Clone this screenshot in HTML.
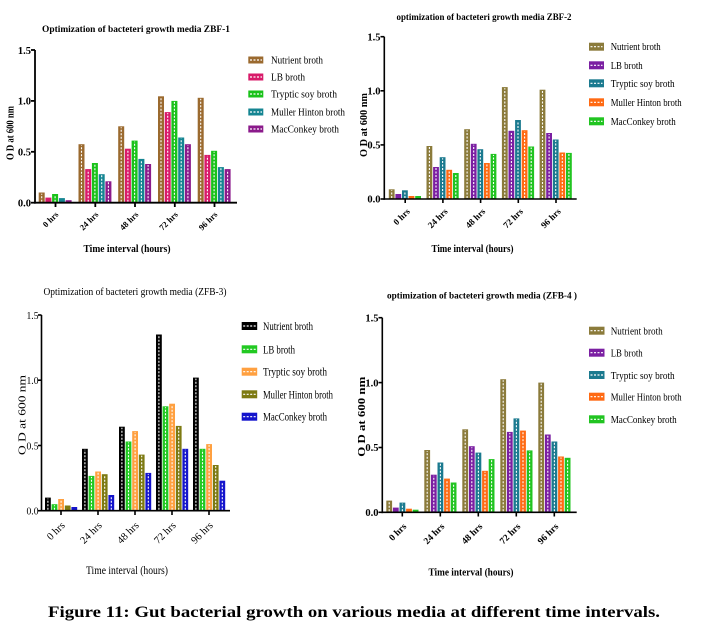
<!DOCTYPE html>
<html><head><meta charset="utf-8"><style>
html,body{margin:0;padding:0;background:#fff;}
svg{display:block;}
text{font-family:"Liberation Serif",serif;fill:#000;}
.b{font-weight:bold;}
</style></head><body>
<svg width="703" height="635" viewBox="0 0 703 635" xmlns="http://www.w3.org/2000/svg">
<rect width="703" height="635" fill="#fff"/>

<!-- ================= PANEL 1 ================= -->
<text class="b" x="136" y="32" font-size="9.5" text-anchor="middle" textLength="188" lengthAdjust="spacingAndGlyphs">Optimization of bacteteri growth media ZBF-1</text>
<g transform="translate(0,202.7) scale(1,-1)">
<g fill="#9b6a2f"><rect x="38.7" y="0" width="6" height="10.2"/><rect x="78.5" y="0" width="6" height="58.5"/><rect x="118.2" y="0" width="6" height="76.4"/><rect x="158" y="0" width="6" height="106.4"/><rect x="197.7" y="0" width="6" height="104.9"/></g>
<g fill="#d81b6a"><rect x="45.4" y="0" width="6" height="5.1"/><rect x="85.2" y="0" width="6" height="33.6"/><rect x="124.9" y="0" width="6" height="54"/><rect x="164.7" y="0" width="6" height="90.6"/><rect x="204.4" y="0" width="6" height="47.8"/></g>
<g fill="#19c219"><rect x="52.1" y="0" width="6" height="8.7"/><rect x="91.9" y="0" width="6" height="39.7"/><rect x="131.6" y="0" width="6" height="62.1"/><rect x="171.4" y="0" width="6" height="101.8"/><rect x="211.1" y="0" width="6" height="51.9"/></g>
<g fill="#158592"><rect x="58.9" y="0" width="6" height="4.6"/><rect x="98.7" y="0" width="6" height="28.5"/><rect x="138.4" y="0" width="6" height="43.8"/><rect x="178.2" y="0" width="6" height="65.2"/><rect x="217.9" y="0" width="6" height="35.6"/></g>
<g fill="#8b1a8b"><rect x="65.6" y="0" width="6" height="2.5"/><rect x="105.4" y="0" width="6" height="21.4"/><rect x="145.1" y="0" width="6" height="38.7"/><rect x="184.9" y="0" width="6" height="58.5"/><rect x="224.6" y="0" width="6" height="33.6"/></g>
<g stroke="#fff" stroke-width="1.1" stroke-dasharray="2,1.5">
<line x1="41.7" y1="1" x2="41.7" y2="9"/><line x1="81.5" y1="1" x2="81.5" y2="57.5"/><line x1="121.2" y1="1" x2="121.2" y2="75.4"/><line x1="161" y1="1" x2="161" y2="105.4"/><line x1="200.7" y1="1" x2="200.7" y2="103.9"/>
<line x1="88.2" y1="1" x2="88.2" y2="32.6"/><line x1="127.9" y1="1" x2="127.9" y2="53"/><line x1="167.7" y1="1" x2="167.7" y2="89.6"/><line x1="207.4" y1="1" x2="207.4" y2="46.8"/>
<line x1="55.1" y1="1" x2="55.1" y2="7.5"/><line x1="94.9" y1="1" x2="94.9" y2="38.7"/><line x1="134.6" y1="1" x2="134.6" y2="61.1"/><line x1="174.4" y1="1" x2="174.4" y2="100.8"/><line x1="214.1" y1="1" x2="214.1" y2="50.9"/>
<line x1="101.7" y1="1" x2="101.7" y2="27.5"/><line x1="141.4" y1="1" x2="141.4" y2="42.8"/><line x1="181.2" y1="1" x2="181.2" y2="64.2"/><line x1="220.9" y1="1" x2="220.9" y2="34.6"/>
<line x1="108.4" y1="1" x2="108.4" y2="20.4"/><line x1="148.1" y1="1" x2="148.1" y2="37.7"/><line x1="187.9" y1="1" x2="187.9" y2="57.5"/><line x1="227.6" y1="1" x2="227.6" y2="32.6"/>
</g>
</g>
<g stroke="#000" stroke-width="1.8" fill="none">
<line x1="35" y1="50" x2="35" y2="203.6"/><line x1="34.1" y1="202.7" x2="237" y2="202.7"/>
<line x1="31" y1="50" x2="35" y2="50"/><line x1="31" y1="100.9" x2="35" y2="100.9"/><line x1="31" y1="151.8" x2="35" y2="151.8"/><line x1="31" y1="202.7" x2="35" y2="202.7"/>
<line x1="55.5" y1="202.7" x2="55.5" y2="207"/><line x1="95.3" y1="202.7" x2="95.3" y2="207"/><line x1="135" y1="202.7" x2="135" y2="207"/><line x1="174.8" y1="202.7" x2="174.8" y2="207"/><line x1="214.5" y1="202.7" x2="214.5" y2="207"/>
</g>
<g class="b" font-size="10.5" text-anchor="end">
<text x="31" y="54">1.5</text><text x="31" y="104.5">1.0</text><text x="31" y="155.5">0.5</text><text x="31" y="206.5">0.0</text>
</g>
<g class="b" font-size="8.5" text-anchor="end">
<text transform="translate(59,215) rotate(-45)">0 hrs</text>
<text transform="translate(99,215) rotate(-45)">24 hrs</text>
<text transform="translate(139,215) rotate(-45)">48 hrs</text>
<text transform="translate(178.5,215) rotate(-45)">72 hrs</text>
<text transform="translate(218,215) rotate(-45)">96 hrs</text>
</g>
<text class="b" x="127" y="252" font-size="10.5" text-anchor="middle" textLength="87" lengthAdjust="spacingAndGlyphs">Time interval (hours)</text>
<text class="b" transform="translate(13.5,133) rotate(-90)" font-size="10" text-anchor="middle" textLength="54" lengthAdjust="spacingAndGlyphs">O D at 600 nm</text>
<!-- legend 1 -->
<g>
<rect x="248.3" y="56.5" width="15" height="7" fill="#9b6a2f"/>
<rect x="248.3" y="73.5" width="15" height="7" fill="#d81b6a"/>
<rect x="248.3" y="90.5" width="15" height="7" fill="#19c219"/>
<rect x="248.3" y="108.5" width="15" height="7" fill="#158592"/>
<rect x="248.3" y="125.5" width="15" height="7" fill="#8b1a8b"/>
<g stroke="#fff" stroke-width="1.2" stroke-dasharray="2,1.5">
<line x1="250" y1="60" x2="262" y2="60"/><line x1="250" y1="77" x2="262" y2="77"/><line x1="250" y1="94" x2="262" y2="94"/><line x1="250" y1="112" x2="262" y2="112"/><line x1="250" y1="129" x2="262" y2="129"/>
</g>
<g font-size="10">
<text x="271" y="63.5" textLength="52" lengthAdjust="spacingAndGlyphs">Nutrient broth</text>
<text x="271" y="80.5" textLength="34" lengthAdjust="spacingAndGlyphs">LB broth</text>
<text x="271" y="97.5" textLength="66" lengthAdjust="spacingAndGlyphs">Tryptic soy broth</text>
<text x="271" y="115.5" textLength="74" lengthAdjust="spacingAndGlyphs">Muller Hinton broth</text>
<text x="271" y="132.5" textLength="68" lengthAdjust="spacingAndGlyphs">MacConkey broth</text>
</g>
</g>

<!-- ================= PANEL 2 ================= -->
<text class="b" x="484" y="20" font-size="9.5" text-anchor="middle" textLength="175" lengthAdjust="spacingAndGlyphs">optimization of bacteteri growth media ZBF-2</text>
<g transform="translate(0,199) scale(1,-1)">
<g fill="#8b7b3b"><rect x="388.8" y="0" width="5.8" height="9.7"/><rect x="426.5" y="0" width="5.8" height="53"/><rect x="464.2" y="0" width="5.8" height="69.8"/><rect x="501.9" y="0" width="5.8" height="111.9"/><rect x="539.6" y="0" width="5.8" height="109.3"/></g>
<g fill="#7b1fa2"><rect x="395.4" y="0" width="5.8" height="5"/><rect x="433.1" y="0" width="5.8" height="32"/><rect x="470.8" y="0" width="5.8" height="55.2"/><rect x="508.5" y="0" width="5.8" height="68.2"/><rect x="546.2" y="0" width="5.8" height="66"/></g>
<g fill="#1b7a8f"><rect x="402" y="0" width="5.8" height="8.7"/><rect x="439.7" y="0" width="5.8" height="41.8"/><rect x="477.4" y="0" width="5.8" height="49.8"/><rect x="515.1" y="0" width="5.8" height="79"/><rect x="552.8" y="0" width="5.8" height="59.5"/></g>
<g fill="#ff6a13"><rect x="408.6" y="0" width="5.8" height="3"/><rect x="446.3" y="0" width="5.8" height="29.2"/><rect x="484" y="0" width="5.8" height="36"/><rect x="521.7" y="0" width="5.8" height="68.8"/><rect x="559.4" y="0" width="5.8" height="46.5"/></g>
<g fill="#21c421"><rect x="415.2" y="0" width="5.8" height="3"/><rect x="452.9" y="0" width="5.8" height="26"/><rect x="490.6" y="0" width="5.8" height="45.1"/><rect x="528.3" y="0" width="5.8" height="52.5"/><rect x="566" y="0" width="5.8" height="46.1"/></g>
<g stroke="#fff" stroke-width="1.1" stroke-dasharray="2,1.5">
<line x1="391.7" y1="1" x2="391.7" y2="8.7"/><line x1="429.4" y1="1" x2="429.4" y2="52"/><line x1="467.1" y1="1" x2="467.1" y2="68.8"/><line x1="504.8" y1="1" x2="504.8" y2="110.9"/><line x1="542.5" y1="1" x2="542.5" y2="108.3"/>
<line x1="436" y1="1" x2="436" y2="31"/><line x1="473.7" y1="1" x2="473.7" y2="54.2"/><line x1="511.4" y1="1" x2="511.4" y2="67.2"/><line x1="549.1" y1="1" x2="549.1" y2="65"/>
<line x1="404.9" y1="1" x2="404.9" y2="7.7"/><line x1="442.6" y1="1" x2="442.6" y2="40.8"/><line x1="480.3" y1="1" x2="480.3" y2="48.8"/><line x1="518" y1="1" x2="518" y2="78"/><line x1="555.7" y1="1" x2="555.7" y2="58.5"/>
<line x1="449.2" y1="1" x2="449.2" y2="28.2"/><line x1="486.9" y1="1" x2="486.9" y2="35"/><line x1="524.6" y1="1" x2="524.6" y2="67.8"/><line x1="562.3" y1="1" x2="562.3" y2="45.5"/>
<line x1="455.8" y1="1" x2="455.8" y2="25"/><line x1="493.5" y1="1" x2="493.5" y2="44.1"/><line x1="531.2" y1="1" x2="531.2" y2="51.5"/><line x1="568.9" y1="1" x2="568.9" y2="45.1"/>
</g>
</g>
<g stroke="#000" stroke-width="1.6" fill="none">
<line x1="384.3" y1="36.7" x2="384.3" y2="199.8"/><line x1="383.5" y1="199" x2="576.7" y2="199"/>
<line x1="380.5" y1="36.7" x2="384.3" y2="36.7"/><line x1="380.5" y1="90.8" x2="384.3" y2="90.8"/><line x1="380.5" y1="144.9" x2="384.3" y2="144.9"/><line x1="380.5" y1="199" x2="384.3" y2="199"/>
<line x1="405.2" y1="199" x2="405.2" y2="203"/><line x1="442.9" y1="199" x2="442.9" y2="203"/><line x1="480.6" y1="199" x2="480.6" y2="203"/><line x1="518.3" y1="199" x2="518.3" y2="203"/><line x1="556" y1="199" x2="556" y2="203"/>
</g>
<g class="b" font-size="10.5" text-anchor="end">
<text x="380.5" y="40.5">1.5</text><text x="380.5" y="94.5">1.0</text><text x="380.5" y="148.5">0.5</text><text x="380.5" y="202.5">0.0</text>
</g>
<g class="b" font-size="9" text-anchor="end">
<text transform="translate(410.5,212) rotate(-45)">0 hrs</text>
<text transform="translate(448.2,212) rotate(-45)">24 hrs</text>
<text transform="translate(485.9,212) rotate(-45)">48 hrs</text>
<text transform="translate(523.6,212) rotate(-45)">72 hrs</text>
<text transform="translate(561.3,212) rotate(-45)">96 hrs</text>
</g>
<text class="b" x="472.5" y="252" font-size="10.5" text-anchor="middle" textLength="82" lengthAdjust="spacingAndGlyphs">Time interval (hours)</text>
<text class="b" transform="translate(367,125) rotate(-90)" font-size="10" text-anchor="middle" textLength="64" lengthAdjust="spacingAndGlyphs">O D at 600 nm</text>
<g>
<rect x="589" y="42.7" width="15" height="8" fill="#8b7b3b"/>
<rect x="589" y="61.3" width="15" height="8" fill="#7b1fa2"/>
<rect x="589" y="79.3" width="15" height="8" fill="#1b7a8f"/>
<rect x="589" y="98.3" width="15" height="8" fill="#ff6a13"/>
<rect x="589" y="117.3" width="15" height="8" fill="#21c421"/>
<g stroke="#fff" stroke-width="1.2" stroke-dasharray="2,1.5">
<line x1="590.5" y1="46.7" x2="602.5" y2="46.7"/><line x1="590.5" y1="65.3" x2="602.5" y2="65.3"/><line x1="590.5" y1="83.3" x2="602.5" y2="83.3"/><line x1="590.5" y1="102.3" x2="602.5" y2="102.3"/><line x1="590.5" y1="121.3" x2="602.5" y2="121.3"/>
</g>
<g font-size="10">
<text x="610.7" y="50.2" textLength="50" lengthAdjust="spacingAndGlyphs">Nutrient broth</text>
<text x="610.7" y="68.8" textLength="32" lengthAdjust="spacingAndGlyphs">LB broth</text>
<text x="610.7" y="86.8" textLength="64" lengthAdjust="spacingAndGlyphs">Tryptic soy broth</text>
<text x="610.7" y="105.8" textLength="71" lengthAdjust="spacingAndGlyphs">Muller Hinton broth</text>
<text x="610.7" y="124.8" textLength="65" lengthAdjust="spacingAndGlyphs">MacConkey broth</text>
</g>
</g>

<!-- ================= PANEL 3 ================= -->
<text x="135" y="295" font-size="11" text-anchor="middle" textLength="183" lengthAdjust="spacingAndGlyphs">Optimization of bacteteri growth media (ZFB-3)</text>
<g transform="translate(0,510.7) scale(1,-1)">
<g fill="#000"><rect x="45" y="0" width="5.8" height="13.1"/><rect x="82" y="0" width="5.8" height="61.9"/><rect x="119" y="0" width="5.8" height="84"/><rect x="156" y="0" width="5.8" height="176.2"/><rect x="193" y="0" width="5.8" height="133.1"/></g>
<g fill="#22c922"><rect x="51.6" y="0" width="5.8" height="6.5"/><rect x="88.6" y="0" width="5.8" height="34.8"/><rect x="125.6" y="0" width="5.8" height="69.2"/><rect x="162.6" y="0" width="5.8" height="104.4"/><rect x="199.6" y="0" width="5.8" height="61.9"/></g>
<g fill="#ffa040"><rect x="58.2" y="0" width="5.8" height="11.7"/><rect x="95.2" y="0" width="5.8" height="39.2"/><rect x="132.2" y="0" width="5.8" height="79.6"/><rect x="169.2" y="0" width="5.8" height="107"/><rect x="206.2" y="0" width="5.8" height="66.6"/></g>
<g fill="#7d7a12"><rect x="64.8" y="0" width="5.8" height="5.2"/><rect x="101.8" y="0" width="5.8" height="36.5"/><rect x="138.8" y="0" width="5.8" height="56.1"/><rect x="175.8" y="0" width="5.8" height="84.8"/><rect x="212.8" y="0" width="5.8" height="45.7"/></g>
<g fill="#1414cc"><rect x="71.4" y="0" width="5.8" height="3.7"/><rect x="108.4" y="0" width="5.8" height="15.7"/><rect x="145.4" y="0" width="5.8" height="37.8"/><rect x="182.4" y="0" width="5.8" height="61.9"/><rect x="219.4" y="0" width="5.8" height="30"/></g>
<g stroke="#fff" stroke-width="1.1" stroke-dasharray="2,1.5">
<line x1="47.9" y1="1" x2="47.9" y2="12.1"/><line x1="84.9" y1="1" x2="84.9" y2="60.9"/><line x1="121.9" y1="1" x2="121.9" y2="83"/><line x1="158.9" y1="1" x2="158.9" y2="175.2"/><line x1="195.9" y1="1" x2="195.9" y2="132.1"/>
<line x1="54.5" y1="1" x2="54.5" y2="5.5"/><line x1="91.5" y1="1" x2="91.5" y2="33.8"/><line x1="128.5" y1="1" x2="128.5" y2="68.2"/><line x1="165.5" y1="1" x2="165.5" y2="103.4"/><line x1="202.5" y1="1" x2="202.5" y2="60.9"/>
<line x1="61.1" y1="1" x2="61.1" y2="10.7"/><line x1="98.1" y1="1" x2="98.1" y2="38.2"/><line x1="135.1" y1="1" x2="135.1" y2="78.6"/><line x1="172.1" y1="1" x2="172.1" y2="106"/><line x1="209.1" y1="1" x2="209.1" y2="65.6"/>
<line x1="104.7" y1="1" x2="104.7" y2="35.5"/><line x1="141.7" y1="1" x2="141.7" y2="55.1"/><line x1="178.7" y1="1" x2="178.7" y2="83.8"/><line x1="215.7" y1="1" x2="215.7" y2="44.7"/>
<line x1="111.3" y1="1" x2="111.3" y2="14.7"/><line x1="148.3" y1="1" x2="148.3" y2="36.8"/><line x1="185.3" y1="1" x2="185.3" y2="60.9"/><line x1="222.3" y1="1" x2="222.3" y2="29"/>
</g>
</g>
<g stroke="#000" stroke-width="1.6" fill="none">
<line x1="41.5" y1="315" x2="41.5" y2="511.5"/><line x1="40.7" y1="510.7" x2="230" y2="510.7"/>
<line x1="38" y1="315" x2="41.5" y2="315"/><line x1="38" y1="380.2" x2="41.5" y2="380.2"/><line x1="38" y1="445.5" x2="41.5" y2="445.5"/><line x1="38" y1="510.7" x2="41.5" y2="510.7"/>
<line x1="61" y1="510.7" x2="61" y2="515"/><line x1="98" y1="510.7" x2="98" y2="515"/><line x1="135" y1="510.7" x2="135" y2="515"/><line x1="172" y1="510.7" x2="172" y2="515"/><line x1="209" y1="510.7" x2="209" y2="515"/>
</g>
<g font-size="11" text-anchor="end">
<text x="38.5" y="319" textLength="12" lengthAdjust="spacingAndGlyphs">1.5</text><text x="38.5" y="384" textLength="12" lengthAdjust="spacingAndGlyphs">1.0</text><text x="38.5" y="449.5" textLength="12" lengthAdjust="spacingAndGlyphs">0.5</text><text x="38.5" y="514.5" textLength="12" lengthAdjust="spacingAndGlyphs">0.0</text>
</g>
<g font-size="10.5" text-anchor="end">
<text transform="translate(65.5,526) rotate(-45)">0 hrs</text>
<text transform="translate(102.5,526) rotate(-45)">24 hrs</text>
<text transform="translate(139.5,526) rotate(-45)">48 hrs</text>
<text transform="translate(176.5,526) rotate(-45)">72 hrs</text>
<text transform="translate(213.5,526) rotate(-45)">96 hrs</text>
</g>
<text x="127" y="574" font-size="12" text-anchor="middle" textLength="82" lengthAdjust="spacingAndGlyphs">Time interval (hours)</text>
<text transform="translate(25.5,415) rotate(-90)" font-size="11" text-anchor="middle" textLength="80" lengthAdjust="spacingAndGlyphs">O D at 600 nm</text>
<g>
<rect x="241.7" y="322" width="15.5" height="8" fill="#000"/>
<rect x="241.7" y="345.3" width="15.5" height="8" fill="#22c922"/>
<rect x="241.7" y="367.7" width="15.5" height="8" fill="#ffa040"/>
<rect x="241.7" y="390.3" width="15.5" height="8" fill="#7d7a12"/>
<rect x="241.7" y="412.7" width="15.5" height="8" fill="#1414cc"/>
<g stroke="#fff" stroke-width="1.2" stroke-dasharray="2,1.5">
<line x1="243.2" y1="326" x2="255.7" y2="326"/><line x1="243.2" y1="349.3" x2="255.7" y2="349.3"/><line x1="243.2" y1="371.7" x2="255.7" y2="371.7"/><line x1="243.2" y1="394.3" x2="255.7" y2="394.3"/><line x1="243.2" y1="416.7" x2="255.7" y2="416.7"/>
</g>
<g font-size="11.5">
<text x="263" y="330" textLength="50" lengthAdjust="spacingAndGlyphs">Nutrient broth</text>
<text x="263" y="353.3" textLength="32" lengthAdjust="spacingAndGlyphs">LB broth</text>
<text x="263" y="375.7" textLength="64" lengthAdjust="spacingAndGlyphs">Tryptic soy broth</text>
<text x="263" y="398.3" textLength="70" lengthAdjust="spacingAndGlyphs">Muller Hinton broth</text>
<text x="263" y="420.7" textLength="64" lengthAdjust="spacingAndGlyphs">MacConkey broth</text>
</g>
</g>

<!-- ================= PANEL 4 ================= -->
<text class="b" x="482" y="298.5" font-size="9.5" text-anchor="middle" textLength="190" lengthAdjust="spacingAndGlyphs">optimization of bacteteri growth media (ZFB-4 )</text>
<g transform="translate(0,512.3) scale(1,-1)">
<g fill="#8b7b3b"><rect x="386.3" y="0" width="5.8" height="11.7"/><rect x="424.3" y="0" width="5.8" height="62.3"/><rect x="462.3" y="0" width="5.8" height="83"/><rect x="500.3" y="0" width="5.8" height="133.1"/><rect x="538.3" y="0" width="5.8" height="129.7"/></g>
<g fill="#7b1fa2"><rect x="392.9" y="0" width="5.8" height="4.7"/><rect x="430.9" y="0" width="5.8" height="37.6"/><rect x="468.9" y="0" width="5.8" height="66.1"/><rect x="506.9" y="0" width="5.8" height="80.4"/><rect x="544.9" y="0" width="5.8" height="77.8"/></g>
<g fill="#1b7a8f"><rect x="399.5" y="0" width="5.8" height="9.7"/><rect x="437.5" y="0" width="5.8" height="49.8"/><rect x="475.5" y="0" width="5.8" height="59.7"/><rect x="513.5" y="0" width="5.8" height="93.9"/><rect x="551.5" y="0" width="5.8" height="70.8"/></g>
<g fill="#ff6a13"><rect x="406.1" y="0" width="5.8" height="3.6"/><rect x="444.1" y="0" width="5.8" height="33.7"/><rect x="482.1" y="0" width="5.8" height="41.5"/><rect x="520.1" y="0" width="5.8" height="81.7"/><rect x="558.1" y="0" width="5.8" height="55.8"/></g>
<g fill="#21c421"><rect x="412.7" y="0" width="5.8" height="2.6"/><rect x="450.7" y="0" width="5.8" height="29.8"/><rect x="488.7" y="0" width="5.8" height="53.2"/><rect x="526.7" y="0" width="5.8" height="61.9"/><rect x="564.7" y="0" width="5.8" height="54.5"/></g>
<g stroke="#fff" stroke-width="1.1" stroke-dasharray="2,1.5">
<line x1="389.2" y1="1" x2="389.2" y2="10.7"/><line x1="427.2" y1="1" x2="427.2" y2="61.3"/><line x1="465.2" y1="1" x2="465.2" y2="82"/><line x1="503.2" y1="1" x2="503.2" y2="132.1"/><line x1="541.2" y1="1" x2="541.2" y2="128.7"/>
<line x1="433.8" y1="1" x2="433.8" y2="36.6"/><line x1="471.8" y1="1" x2="471.8" y2="65.1"/><line x1="509.8" y1="1" x2="509.8" y2="79.4"/><line x1="547.8" y1="1" x2="547.8" y2="76.8"/>
<line x1="402.4" y1="1" x2="402.4" y2="8.7"/><line x1="440.4" y1="1" x2="440.4" y2="48.8"/><line x1="478.4" y1="1" x2="478.4" y2="58.7"/><line x1="516.4" y1="1" x2="516.4" y2="92.9"/><line x1="554.4" y1="1" x2="554.4" y2="69.8"/>
<line x1="447" y1="1" x2="447" y2="32.7"/><line x1="485" y1="1" x2="485" y2="40.5"/><line x1="523" y1="1" x2="523" y2="80.7"/><line x1="561" y1="1" x2="561" y2="54.8"/>
<line x1="453.6" y1="1" x2="453.6" y2="28.8"/><line x1="491.6" y1="1" x2="491.6" y2="52.2"/><line x1="529.6" y1="1" x2="529.6" y2="60.9"/><line x1="567.6" y1="1" x2="567.6" y2="53.5"/>
</g>
</g>
<g stroke="#000" stroke-width="1.6" fill="none">
<line x1="382.3" y1="317.7" x2="382.3" y2="513.1"/><line x1="381.5" y1="512.3" x2="576.7" y2="512.3"/>
<line x1="378.5" y1="317.7" x2="382.3" y2="317.7"/><line x1="378.5" y1="382.6" x2="382.3" y2="382.6"/><line x1="378.5" y1="447.5" x2="382.3" y2="447.5"/><line x1="378.5" y1="512.3" x2="382.3" y2="512.3"/>
<line x1="402.3" y1="512.3" x2="402.3" y2="516.5"/><line x1="440.3" y1="512.3" x2="440.3" y2="516.5"/><line x1="478.3" y1="512.3" x2="478.3" y2="516.5"/><line x1="516.3" y1="512.3" x2="516.3" y2="516.5"/><line x1="554.3" y1="512.3" x2="554.3" y2="516.5"/>
</g>
<g class="b" font-size="10.5" text-anchor="end">
<text x="378.5" y="321.5">1.5</text><text x="378.5" y="386.3">1.0</text><text x="378.5" y="451.2">0.5</text><text x="378.5" y="516">0.0</text>
</g>
<g class="b" font-size="9.5" text-anchor="end">
<text transform="translate(407,527) rotate(-45)">0 hrs</text>
<text transform="translate(445,527) rotate(-45)">24 hrs</text>
<text transform="translate(483,527) rotate(-45)">48 hrs</text>
<text transform="translate(521,527) rotate(-45)">72 hrs</text>
<text transform="translate(559,527) rotate(-45)">96 hrs</text>
</g>
<text class="b" x="471" y="575.5" font-size="11" text-anchor="middle" textLength="85" lengthAdjust="spacingAndGlyphs">Time interval (hours)</text>
<text class="b" transform="translate(365,416.7) rotate(-90)" font-size="10" text-anchor="middle" textLength="80" lengthAdjust="spacingAndGlyphs">O D at 600 nm</text>
<g>
<rect x="589" y="326.7" width="15.5" height="8" fill="#8b7b3b"/>
<rect x="589" y="348.7" width="15.5" height="8" fill="#7b1fa2"/>
<rect x="589" y="371" width="15.5" height="8" fill="#1b7a8f"/>
<rect x="589" y="392.7" width="15.5" height="8" fill="#ff6a13"/>
<rect x="589" y="415.3" width="15.5" height="8" fill="#21c421"/>
<g stroke="#fff" stroke-width="1.2" stroke-dasharray="2,1.5">
<line x1="590.5" y1="330.7" x2="603" y2="330.7"/><line x1="590.5" y1="352.7" x2="603" y2="352.7"/><line x1="590.5" y1="375" x2="603" y2="375"/><line x1="590.5" y1="396.7" x2="603" y2="396.7"/><line x1="590.5" y1="419.3" x2="603" y2="419.3"/>
</g>
<g font-size="10.5">
<text x="610.7" y="334.5" textLength="52" lengthAdjust="spacingAndGlyphs">Nutrient broth</text>
<text x="610.7" y="356.5" textLength="32" lengthAdjust="spacingAndGlyphs">LB broth</text>
<text x="610.7" y="378.8" textLength="64" lengthAdjust="spacingAndGlyphs">Tryptic soy broth</text>
<text x="610.7" y="400.5" textLength="71" lengthAdjust="spacingAndGlyphs">Muller Hinton broth</text>
<text x="610.7" y="423.1" textLength="66" lengthAdjust="spacingAndGlyphs">MacConkey broth</text>
</g>
</g>

<!-- caption -->
<text class="b" x="354" y="617" font-size="16" text-anchor="middle" textLength="612" lengthAdjust="spacingAndGlyphs">Figure 11: Gut bacterial growth on various media at different time intervals.</text>
</svg>
</body></html>
